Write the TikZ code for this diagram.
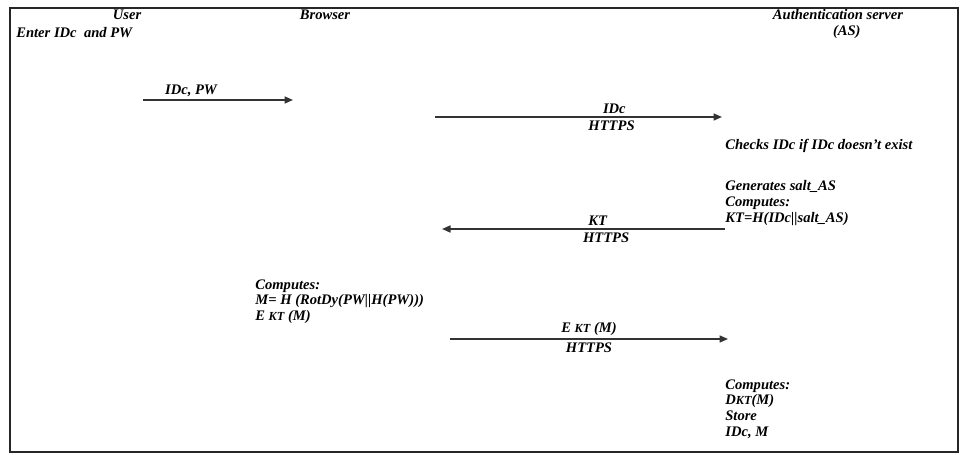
\documentclass[tikz,border=0pt]{standalone}
\usepackage{fontspec}
\setmainfont{Liberation Serif}
\usepackage{tikz}
\usetikzlibrary{arrows.meta,positioning}

\begin{document}
\begin{tikzpicture}[
    x=0.02cm, y=-0.02cm,
    txt/.style={inner sep=0pt, font=\fontsize{8.3}{9.1}\selectfont\bfseries\itshape},
    block/.style={txt, anchor=north west, align=left},
    lbl/.style={txt, inner sep=1.5pt},
    msg/.style={-{Triangle[length=1.7mm,width=1.4mm]}, line width=0.9pt, draw=black!80},
]
\useasboundingbox (0,0) rectangle (966,455);
\draw[line width=0.9pt, black!85] (10,8) rectangle (958,452);

% ---------- Parties ----------
\node[txt] (user) at (127,15) {User};
\node[txt, anchor=west] (enter) at (16,33) {Enter IDc\ \ and PW};
\node[txt] (browser) at (325,15) {Browser};
\node[txt, align=center] (as) at (838,24) {Authentication server\\\hspace*{10pt}(AS)};

% ---------- Message end points ----------
\coordinate (m1s) at (143,100);
\coordinate (m1e) at (293,100);
\coordinate (m2s) at (435,117);
\coordinate (m2e) at (722,117);
\coordinate (m3s) at (725,229);
\coordinate (m3e) at (442,229);
\coordinate (m4s) at (450,339);
\coordinate (m4e) at (728,339);

% ---------- Computations ----------
\node[txt, anchor=west] (check) at (725,146) {Checks IDc if IDc doesn’t exist};
\node[block] (gen) at (725,180) {Generates salt\_AS\\Computes:\\KT=H(IDc||salt\_AS)};
\node[block] (bcomp) at (255,279) {Computes:\\M= H (RotDy(PW||H(PW)))\\E {\scriptsize KT} (M)};
\node[block] (ascomp) at (725,379) {Computes:\\D{\scriptsize KT}(M)\\Store\\IDc, M};

% ---------- Messages ----------
\draw[msg] (m1s) -- (m1e) node[lbl, pos=0.32, above] {IDc, PW};
\draw[msg] (m2s) -- (m2e) node[lbl, pos=0.625, above] {IDc}
    node[lbl, pos=0.615, below] {HTTPS};
\draw[msg] (m3s) -- (m3e) node[lbl, pos=0.45, above] {KT}
    node[lbl, pos=0.42, below] {HTTPS};
\draw[msg] (m4s) -- (m4e) node[lbl, pos=0.5, above] {E {\scriptsize KT} (M)}
    node[lbl, pos=0.5, below] {HTTPS};

\end{tikzpicture}
\end{document}
